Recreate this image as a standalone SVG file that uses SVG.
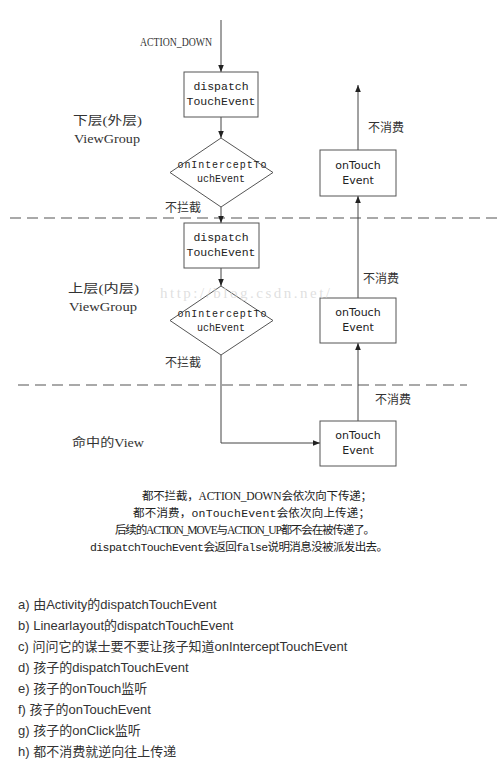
<svg xmlns="http://www.w3.org/2000/svg" width="503" height="781" viewBox="0 0 503 781">
<defs>
<marker id="ah" viewBox="0 0 10 10" refX="10" refY="5" markerWidth="7" markerHeight="7" orient="auto" markerUnits="userSpaceOnUse">
<path d="M0,1 L10,5 L0,9 z" fill="#222"/>
</marker>
<style>
.box{fill:#fff;stroke:#555;stroke-width:1}
.ln{fill:none;stroke:#444;stroke-width:1}
.dash{fill:none;stroke:#555;stroke-width:1.2;stroke-dasharray:11 6}
.mono{font-family:"Liberation Mono","DejaVu Sans Mono",monospace;fill:#222;text-anchor:middle}
.sans{font-family:"DejaVu Sans","Noto Sans",sans-serif;fill:#222;text-anchor:middle;font-size:11px}
.ser{font-family:"Liberation Serif","Noto Sans CJK SC",serif;fill:#333;font-size:12px}
.cjk{font-family:"Noto Sans CJK SC",sans-serif;fill:#333;font-size:12px}
.note{font-family:"Liberation Serif","Noto Sans CJK SC",serif;fill:#222;font-size:11.5px}
.list{font-family:"Liberation Sans","Noto Sans CJK SC",sans-serif;fill:#333;font-size:13px}
</style>
</defs>
<rect width="503" height="781" fill="#fff"/>
<g id="dividers">
<line class="dash" x1="10" y1="218" x2="497" y2="218"/>
<line class="dash" x1="18" y1="385" x2="467" y2="385"/>
</g>
<g id="connectors">
<line class="ln" x1="221" y1="20" x2="221" y2="72" marker-end="url(#ah)"/>
<line class="ln" x1="221" y1="117" x2="221" y2="138" marker-end="url(#ah)"/>
<line class="ln" x1="221" y1="207" x2="221" y2="223" marker-end="url(#ah)"/>
<line class="ln" x1="221" y1="268" x2="221" y2="286" marker-end="url(#ah)"/>
<polyline class="ln" points="221,355 221,443 320,443" marker-end="url(#ah)"/>
<line class="ln" x1="358" y1="421" x2="358" y2="343" marker-end="url(#ah)"/>
<line class="ln" x1="358" y1="298" x2="358" y2="196" marker-end="url(#ah)"/>
<line class="ln" x1="358" y1="150" x2="358" y2="85" marker-end="url(#ah)"/>
<text class="ser" x="140" y="46" font-size="11.5" textLength="72" lengthAdjust="spacingAndGlyphs">ACTION_DOWN</text>
<text class="cjk" x="165" y="212">不拦截</text>
<text class="cjk" x="165" y="367">不拦截</text>
<text class="cjk" x="368" y="132">不消费</text>
<text class="cjk" x="363" y="283">不消费</text>
<text class="cjk" x="375" y="404">不消费</text>
</g>
<g id="dispatch1">
<rect class="box" x="184" y="72" width="74" height="45"/>
<text class="mono" x="221" y="90" font-size="11.5">dispatch</text>
<text class="mono" x="221" y="105" font-size="11.5">TouchEvent</text>
</g>
<g id="intercept1">
<polygon class="box" points="221,138 273,172.5 221,207 170,172.5"/>
<text class="mono" x="222" y="168" font-size="10" textLength="89">onInterceptTo</text>
<text class="mono" x="221" y="182" font-size="10">uchEvent</text>
</g>
<g id="dispatch2">
<rect class="box" x="184" y="223" width="75" height="45"/>
<text class="mono" x="221" y="241" font-size="11.5">dispatch</text>
<text class="mono" x="221" y="256" font-size="11.5">TouchEvent</text>
</g>
<g id="intercept2">
<polygon class="box" points="221,286 273,320.5 221,355 170,320.5"/>
<text class="mono" x="222" y="317" font-size="10" textLength="89">onInterceptTo</text>
<text class="mono" x="221" y="331" font-size="10">uchEvent</text>
</g>
<g id="ontouch-top">
<rect class="box" x="320" y="150" width="76" height="46"/>
<text class="sans" x="358" y="169">onTouch</text>
<text class="sans" x="358" y="184">Event</text>
</g>
<g id="ontouch-mid">
<rect class="box" x="320" y="298" width="76" height="45"/>
<text class="sans" x="358" y="316">onTouch</text>
<text class="sans" x="358" y="331">Event</text>
</g>
<g id="ontouch-view">
<rect class="box" x="320" y="421" width="76" height="45"/>
<text class="sans" x="358" y="439">onTouch</text>
<text class="sans" x="358" y="454">Event</text>
</g>
<g id="labels">
<text class="ser" x="73" y="125" font-size="14" textLength="69" lengthAdjust="spacingAndGlyphs">下层(外层)</text>
<text class="ser" x="74" y="143" font-size="14" textLength="66" lengthAdjust="spacingAndGlyphs">ViewGroup</text>
<text class="ser" x="68" y="293" font-size="14" textLength="71" lengthAdjust="spacingAndGlyphs">上层(内层)</text>
<text class="ser" x="69" y="311" font-size="14" textLength="68" lengthAdjust="spacingAndGlyphs">ViewGroup</text>
<text class="ser" x="72" y="447" font-size="14" textLength="72" lengthAdjust="spacingAndGlyphs">命中的View</text>
</g>
<g id="note">
<text class="note" x="142" y="500" textLength="230">都不拦截，ACTION_DOWN会依次向下传递；</text>
<text class="note" x="133" y="517" textLength="237">都不消费，<tspan font-family="Liberation Mono,monospace">onTouchEvent</tspan>会依次向上传递；</text>
<text class="note" x="115" y="534" textLength="260">后续的ACTION_MOVE与ACTION_UP都不会在被传递了。</text>
<text class="note" x="90" y="551" textLength="298"><tspan font-family="Liberation Mono,monospace">dispatchTouchEvent</tspan>会返回<tspan font-family="Liberation Mono,monospace">false</tspan>说明消息没被派发出去。</text>
</g>
<g id="list">
<text class="list" x="18" y="609">a) 由Activity的dispatchTouchEvent</text>
<text class="list" x="18" y="630">b) Linearlayout的dispatchTouchEvent</text>
<text class="list" x="18" y="651">c) 问问它的谋士要不要让孩子知道onInterceptTouchEvent</text>
<text class="list" x="18" y="672">d) 孩子的dispatchTouchEvent</text>
<text class="list" x="18" y="693">e) 孩子的onTouch监听</text>
<text class="list" x="18" y="714">f) 孩子的onTouchEvent</text>
<text class="list" x="18" y="735">g) 孩子的onClick监听</text>
<text class="list" x="18" y="756">h) 都不消费就逆向往上传递</text>
</g>
<text x="160" y="298" font-family="Liberation Serif,serif" font-size="15" fill="#d8d8d8" fill-opacity="0.8" textLength="170">http://blog.csdn.net/</text>
</svg>
